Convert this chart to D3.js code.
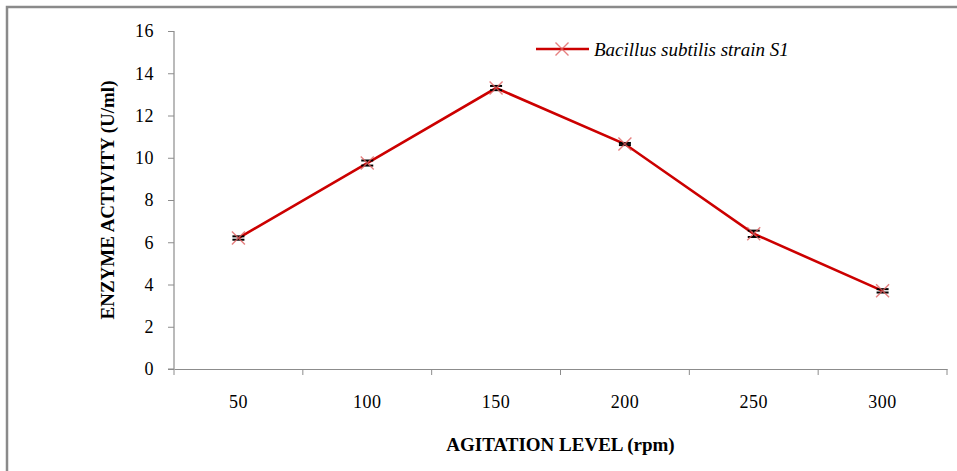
<!DOCTYPE html>
<html><head><meta charset="utf-8">
<script src="https://cdn.jsdelivr.net/npm/d3@7"></script>
<style>body{margin:0;background:#fff;} svg{display:block;}</style>
</head><body>
<svg id="c" width="957" height="471"></svg>
<script>
const categories = ["50","100","150","200","250","300"];
const activity = [6.2, 9.75, 13.3, 10.65, 6.4, 3.7];
const errors = [0.08, 0.12, 0.1, 0.05, 0.15, 0.08];
const yTicks = [0,2,4,6,8,10,12,14,16];
const seriesName = "Bacillus subtilis strain S1";

const FONT = '"Liberation Serif"';
const svg = d3.select("#c");
svg.append("rect").attr("x",7).attr("y",7).attr("width",960).attr("height",480)
  .attr("fill","none").attr("stroke","#8a8a8a").attr("stroke-width",2.5);

const L=174, R=947, T=31, B=369;
const x = d3.scaleBand().domain(categories).range([L,R]);
const y = d3.scaleLinear().domain([0,16]).range([B,T]);

const axisColor = "#8c8c8c";

const yAxis = svg.append("g").attr("transform",`translate(${L},0)`)
  .call(d3.axisLeft(y).tickValues(yTicks).tickSize(6).tickPadding(14).tickFormat(d3.format("d")));
const xAxis = svg.append("g").attr("transform",`translate(0,${B})`)
  .call(d3.axisBottom(x).tickSize(0).tickPadding(26));
xAxis.selectAll(".bt").data(d3.range(categories.length+1)).enter().append("line")
  .attr("x1",i=>L+i*x.step()).attr("x2",i=>L+i*x.step()).attr("y1",0).attr("y2",6)
  .attr("stroke",axisColor).attr("stroke-width",1);
xAxis.append("line").attr("x1",L-6).attr("x2",L).attr("y1",0).attr("y2",0).attr("stroke",axisColor);

[yAxis,xAxis].forEach(g=>{
  g.attr("font-family",null).attr("font-size",null);
  g.select(".domain").attr("stroke",axisColor).attr("stroke-width",1.2);
  g.selectAll(".tick line").attr("stroke",axisColor);
  g.selectAll("text").style("font-family",FONT).style("font-size","18px").style("letter-spacing","0.5px").attr("fill","#000");
});
yAxis.select(".domain").attr("d",`M-0,${T}H0V${B}H0`);
xAxis.selectAll(".tick text").attr("dy","0.71em");

const cx = (d,i)=>x(categories[i])+x.bandwidth()/2;
const line = d3.line().x((d,i)=>cx(d,i)).y(d=>y(d));
svg.append("path").datum(activity).attr("d",line).attr("fill","none")
  .attr("stroke","#cc0000").attr("stroke-width",2.6);

const eb = svg.append("g");
activity.forEach((v,i)=>{
  const px=cx(v,i);
  eb.append("line").attr("x1",px).attr("x2",px).attr("y1",y(v+errors[i])).attr("y2",y(v-errors[i])).attr("stroke","#000").attr("stroke-width",1.5);
  [v+errors[i], v-errors[i]].forEach(e=>{
    eb.append("line").attr("x1",px-6).attr("x2",px+6).attr("y1",y(e)).attr("y2",y(e)).attr("stroke","#000").attr("stroke-width",2);
  });
});

const mk = (g,px,py)=>{
  const s=6.5;
  g.append("path").attr("d",`M${px-s},${py-s}L${px+s},${py+s}M${px-s},${py+s}L${px+s},${py-s}`)
    .attr("stroke","#e06060").attr("stroke-opacity",0.8).attr("stroke-width",1.4).attr("fill","none");
};
const mg = svg.append("g");
activity.forEach((v,i)=>mk(mg,cx(v,i),y(v)));

const lg = svg.append("g");
lg.append("line").attr("x1",536).attr("x2",589).attr("y1",49).attr("y2",49).attr("stroke","#cc0000").attr("stroke-width",2.6);
mk(lg,562,49);
lg.append("text").attr("x",594).attr("y",56).style("font-family",FONT).style("font-style","italic")
  .style("font-size","19px").attr("fill","#000").text(seriesName);

svg.append("text").attr("transform",`translate(114,${(T+B)/2}) rotate(-90)`).attr("text-anchor","middle")
  .style("font-family",FONT).style("font-weight","bold").style("font-size","19px").text("ENZYME ACTIVITY (U/ml)");
svg.append("text").attr("x",(L+R)/2).attr("y",451).attr("text-anchor","middle")
  .style("font-family",FONT).style("font-weight","bold").style("font-size","19px").text("AGITATION LEVEL (rpm)");
</script>
</body></html>
